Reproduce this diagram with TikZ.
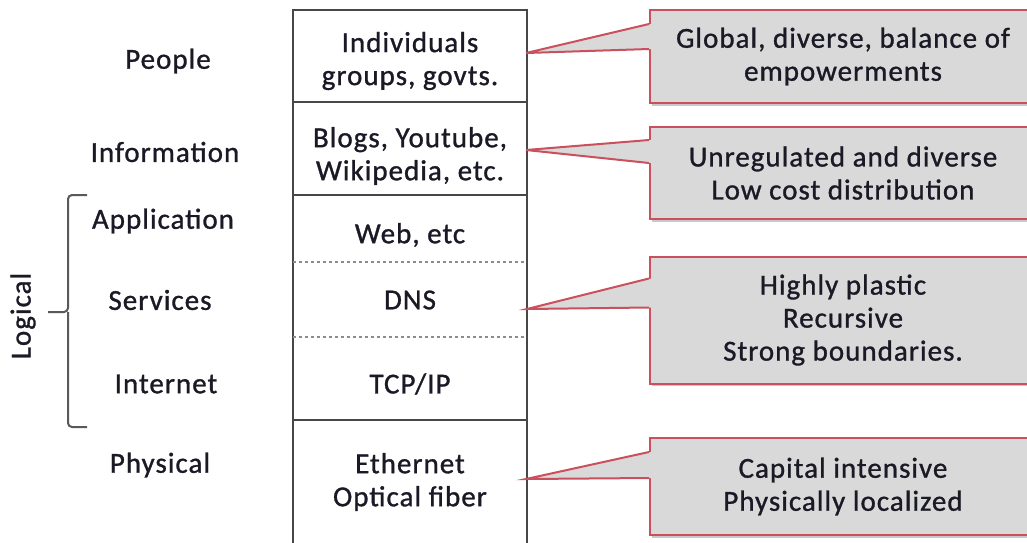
\documentclass[tikz,border=0pt]{standalone}
\usepackage{fontspec}
\setmainfont{Carlito}[LetterSpace=3.5,FakeBold=1]
\usetikzlibrary{calc,shadows}
\definecolor{ink}{HTML}{1A1926}
\definecolor{rule}{HTML}{474747}
\definecolor{dots}{HTML}{8C8C8C}
\definecolor{callred}{HTML}{C9505C}
\definecolor{callfill}{HTML}{D9D9D9}
\tikzset{
  every node/.style={font=\fontsize{29}{33}\selectfont,text=ink,inner sep=0pt,align=center},
  stackline/.style={draw=rule,line width=2pt},
  sepline/.style={draw=dots,line width=1.6pt,dash pattern=on 3pt off 3pt},
  brace/.style={draw=rule!90,line width=2pt,rounded corners=4pt},
  notebox/.style={draw=callred,fill=callfill,line width=2pt,minimum width=386pt,
    drop shadow={shadow xshift=2pt,shadow yshift=-2.5pt,opacity=.3,fill=black!70}},
  callline/.style={draw=callred,line width=2pt,line join=miter},
}
% wedge from a tip on the stack to the left side of a note box
\newcommand{\pointer}[4]{%
  \fill[callfill] (#1) -- ([xshift=2pt,yshift=-#3pt]#2.north west) -- ([xshift=2pt,yshift=-#4pt]#2.north west) -- cycle;
  \draw[callline] ([yshift=-#3pt]#2.north west) -- (#1) -- ([yshift=-#4pt]#2.north west);}

\begin{document}
\begin{tikzpicture}[x=1pt,y=-1pt]
\useasboundingbox (0,0) rectangle (1027,542);
\fill[white] (0,0) rectangle (1027,542);
\clip (0,0) rectangle (1027,542);
% layer names on the left
\node (people) at (168,61) {People};
\node (info) at (165,152) {Information};
\node (app) at (163,221) {Application};
\node (serv) at (160,300) {Services};
\node (inet) at (166,384) {Internet};
\node (phys) at (160,465) {Physical};
\draw[brace] (87,195) -| (68,312) -- (48,312);
\draw[brace] (68,312) |- (87,427);
\node[rotate=90] (logical) at (23,316) {Logical};
% the stack itself, open at the bottom
\draw[stackline] (293,560) |- (527,10) -- (527,560);
\draw[stackline] (293,102) -- (527,102);
\draw[stackline] (293,195) -- (527,195);
\draw[sepline] (293,262) -- (527,262);
\draw[sepline] (293,337) -- (527,337);
\draw[stackline] (293,420) -- (527,420);
\node (indiv) at (410,61) {Individuals\\groups, govts.};
\node (blogs) at (410,156) {Blogs, Youtube,\\Wikipedia, etc.};
\node (web) at (410,235) {Web, etc};
\node (dns) at (410,300) {DNS};
\node (tcp) at (410,384) {TCP/IP};
\node (eth) at (410,482) {Ethernet\\Optical fiber};
% notes on the right, cut off by the page edge
\node[notebox,minimum height=93pt] (noteP) at (843,56.5) {Global, diverse, balance of\\empowerments};
\node[notebox,minimum height=92pt] (noteI) at (843,173) {Unregulated and diverse\\Low cost distribution};
\node[notebox,minimum height=127pt] (noteS) at (843,320) {Highly plastic\\Recursive\\Strong boundaries.};
\node[notebox,minimum height=97pt] (noteH) at (843,486.5) {Capital intensive\\Physically localized};
\coordinate (tipP) at (526,53);
\coordinate (tipI) at (526,150);
\coordinate (tipS) at (527,309);
\coordinate (tipH) at (526,479);
\pointer{tipP}{noteP}{15}{40}
\pointer{tipI}{noteI}{14}{37}
\pointer{tipS}{noteS}{23}{52}
\pointer{tipH}{noteH}{15}{41}
\end{tikzpicture}
\end{document}
